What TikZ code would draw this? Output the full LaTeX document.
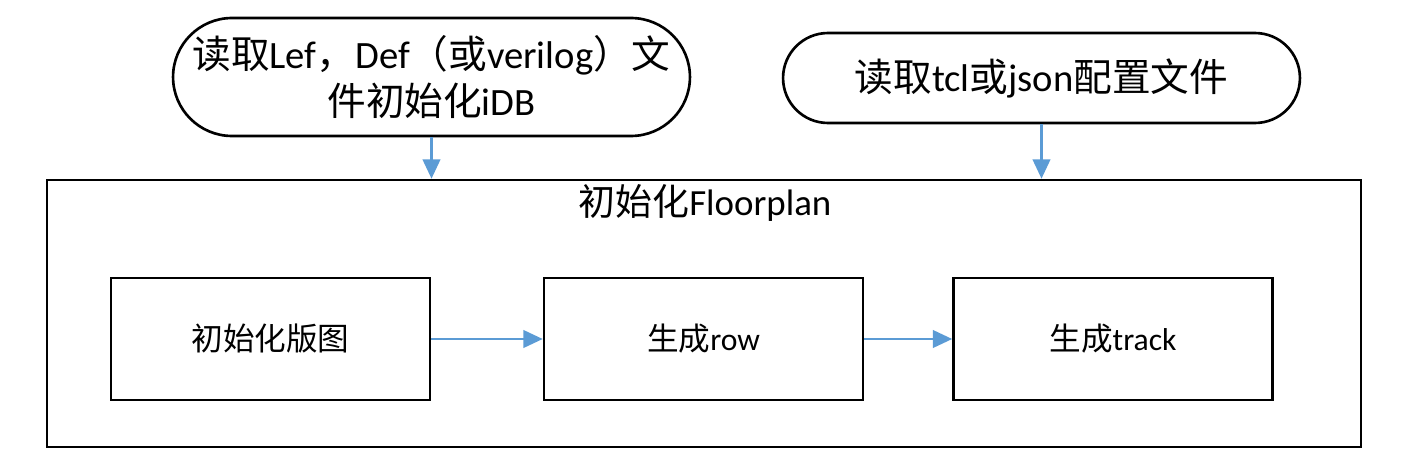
\documentclass[tikz,border=0pt]{standalone}
\usepackage{fontspec}
\setmainfont{Carlito}
\newfontfamily\cjk{Noto Sans CJK SC}
\usetikzlibrary{arrows.meta, positioning}
\definecolor{flowblue}{HTML}{5B9BD5}

\begin{document}
\begin{tikzpicture}[x=0.02cm, y=-0.02cm,
    term/.style={rectangle, draw, line width=1.5pt, inner sep=0pt,
                 minimum width=10.34cm, minimum height=#1,
                 rounded corners=0.5*#1, align=center,
                 font=\fontsize{22}{27}\selectfont},
    stepbox/.style={rectangle, draw, line width=1.5pt,
                    minimum width=6.38cm, minimum height=2.44cm,
                    font=\fontsize{18}{22}\selectfont},
    flow/.style={draw=flowblue, line width=1.3pt,
                 -{Triangle[length=11pt, width=10pt]}},
  ]
  \useasboundingbox (0,0) rectangle (1404,473);

  % input files
  \node[term=2.36cm] (rdlef) at (431.5,77)
    {{\cjk 读取}Lef{\cjk ，}Def{\cjk （或}verilog{\cjk ）文}\\{\cjk 件初始化}iDB};
  \node[term=1.8cm] (rdtcl) at (1041.5,78)
    {{\cjk 读取}tcl{\cjk 或}json{\cjk 配置文件}};

  % floorplan init
  \node[draw, line width=1.5pt, minimum width=26.28cm, minimum height=5.34cm]
    (fp) at (704,313.5) {};
  \node[font=\fontsize{21}{25}\selectfont] (fptitle) at (705,203)
    {{\cjk 初始化}Floorplan};

  \node[stepbox] (initdie) at (270.5,339) {\cjk 初始化版图};
  \node[stepbox] (genrow) at (703.5,339) {{\cjk 生成}row};
  \node[stepbox] (gentrack) at (1113,339) {{\cjk 生成}track};

  \draw[flow] (rdlef.south) -- (rdlef.south |- fp.north);
  \draw[flow] (rdtcl.south) -- (rdtcl.south |- fp.north);
  \draw[flow] (initdie) -- (genrow);
  \draw[flow] (genrow) -- (gentrack);
\end{tikzpicture}
\end{document}
